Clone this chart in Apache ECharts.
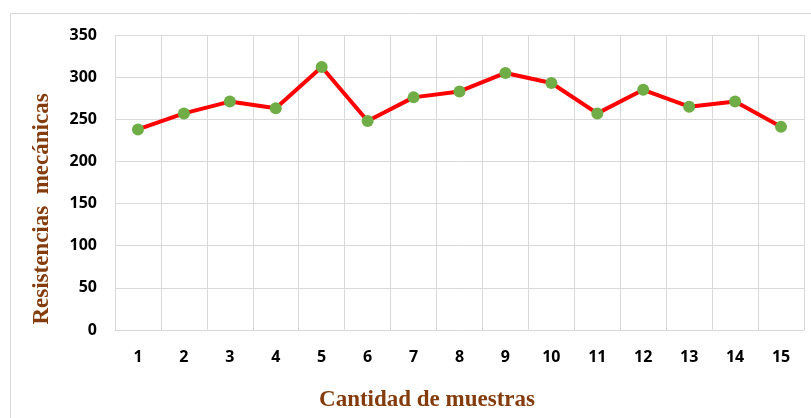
<!DOCTYPE html>
<html>
<head>
<meta charset="utf-8">
<script src="https://cdn.jsdelivr.net/npm/echarts@6/dist/echarts.min.js"></script>
<style>
  html, body { margin: 0; padding: 0; background: #fff; }
  #main { width: 811px; height: 418px; }
</style>
</head>
<body>
<div id="main"></div>
<script>
let chart = echarts.init(document.getElementById('main'));

// Sample numbers and measured values
let muestras = ['1', '2', '3', '4', '5', '6', '7', '8', '9', '10', '11', '12', '13', '14', '15'];
let resistencias = [238, 257, 271, 263, 312, 248, 276, 283, 305, 293, 257, 285, 265, 271, 241];

let titleFont = 'bold 23px "Liberation Serif", "DejaVu Serif", serif';
let titleColor = '#843C0C';

let labelStyle = {
    color: '#000',
    fontFamily: '"Liberation Sans Narrow", "Noto Sans", sans-serif',
    fontWeight: 'bold',
    fontSize: 16
};

let option = {
    animation: false,
    graphic: [{
        type: 'rect',
        shape: { x: 10.5, y: 13.5, width: 820, height: 420 },
        style: { fill: 'none', stroke: '#d9d9d9', lineWidth: 1 }
    }, {
        // axis titles are offset from the plot centre in the original
        type: 'text',
        x: 42,
        y: 209,
        rotation: Math.PI / 2,
        style: {
            text: 'Resistencias  mecánicas',
            font: titleFont,
            fill: titleColor,
            align: 'center',
            verticalAlign: 'middle'
        }
    }, {
        type: 'text',
        x: 427,
        y: 400,
        style: {
            text: 'Cantidad de muestras',
            font: titleFont,
            fill: titleColor,
            align: 'center',
            verticalAlign: 'middle'
        }
    }],
    grid: {
        left: 115,
        right: 7,
        top: 35,
        bottom: 88,
        containLabel: false,
        outerBoundsMode: 'none'
    },
    xAxis: {
        type: 'category',
        data: muestras,
        boundaryGap: true,
        axisLine: { lineStyle: { color: '#d9d9d9', width: 1 } },
        axisTick: { show: false },
        axisLabel: Object.assign({ margin: 19 }, labelStyle),
        splitLine: { show: true, lineStyle: { color: '#d9d9d9', width: 1 } }
    },
    yAxis: {
        type: 'value',
        min: 0,
        max: 350,
        interval: 50,
        axisLine: { show: false },
        axisTick: { show: false },
        axisLabel: Object.assign({ margin: 18 }, labelStyle),
        splitLine: { show: true, lineStyle: { color: '#d9d9d9', width: 1 } }
    },
    series: [{
        type: 'line',
        data: resistencias,
        symbol: 'circle',
        symbolSize: 12,
        lineStyle: { color: '#ff0000', width: 4 },
        itemStyle: { color: '#70ad47', borderWidth: 0 }
    }]
};

chart.setOption(option);
</script>
</body>
</html>
